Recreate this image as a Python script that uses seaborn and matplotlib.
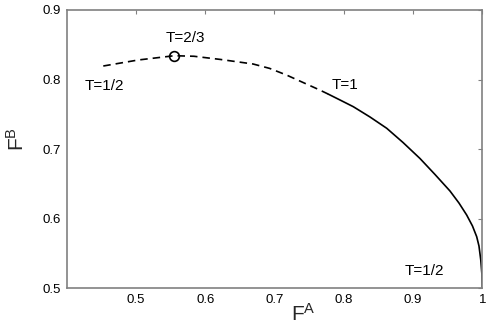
import matplotlib
matplotlib.use("Agg")
import matplotlib.pyplot as plt
import seaborn as sns
import pandas as pd

# Data
fa_dashed = [0.4528, 0.5029, 0.5554, 0.5837, 0.6214, 0.6690, 0.6929, 0.7172, 0.7653, 0.7772]
fb_dashed = [0.8195, 0.8281, 0.8343, 0.8335, 0.8290, 0.8224, 0.8161, 0.8066, 0.7850, 0.7793]
fa_solid = [0.7772, 0.7945, 0.8138, 0.8379, 0.8620, 0.8855, 0.9100, 0.9317, 0.9533,
            0.9663, 0.9774, 0.9858, 0.9919, 0.9952, 0.9978, 0.9994, 1.0]
fb_solid = [0.7793, 0.7707, 0.7610, 0.7462, 0.7300, 0.7096, 0.6866, 0.6636, 0.6399,
            0.6226, 0.6054, 0.5896, 0.5742, 0.5608, 0.5407, 0.5206, 0.5]
peak_fa = [0.5554]
peak_fb = [0.8343]
x_ticks = [0.5, 0.6, 0.7, 0.8, 0.9, 1.0]
x_tick_labels = ["0.5", "0.6", "0.7", "0.8", "0.9", "1"]
y_ticks = [0.5, 0.6, 0.7, 0.8, 0.9]
y_tick_labels = ["0.5", "0.6", "0.7", "0.8", "0.9"]
annotations = [("T=2/3", 0.5715, 0.8544, "center"),
               ("T=1/2", 0.4264, 0.7850, "left"),
               ("T=1", 0.7826, 0.7860, "left"),
               ("T=1/2", 0.8884, 0.5190, "left")]

sns.set_style("white")
plt.rcParams["font.family"] = ["Liberation Sans", "DejaVu Sans"]
plt.rcParams["mathtext.fontset"] = "custom"
plt.rcParams["mathtext.rm"] = "Liberation Sans"
plt.rcParams["mathtext.it"] = "Liberation Sans"
plt.rcParams["mathtext.default"] = "regular"

fig = plt.figure(figsize=(4.91, 3.27), dpi=100)
ax = fig.add_axes([66.7 / 491, 1 - 288.3 / 327, 415.6 / 491, 278.3 / 327])

df_d = pd.DataFrame({"FA": fa_dashed, "FB": fb_dashed})
df_s = pd.DataFrame({"FA": fa_solid, "FB": fb_solid})
df_p = pd.DataFrame({"FA": peak_fa, "FB": peak_fb})

sns.lineplot(data=df_d, x="FA", y="FB", ax=ax, color="black", lw=1.2,
             linestyle=(0, (4.5, 3)), sort=False)
sns.lineplot(data=df_s, x="FA", y="FB", ax=ax, color="black", lw=1.2, sort=False)
ax.plot(df_p["FA"], df_p["FB"], marker="o", ms=7, mfc="none", mec="black",
        mew=1.2, linestyle="none")

for txt, x, y, ha in annotations:
    ax.text(x, y, txt, ha=ha, va="baseline", fontsize=11, color="black")

ax.set_xlim(0.4, 1.0)
ax.set_ylim(0.5, 0.9)
ax.set_xticks(x_ticks)
ax.set_xticklabels(x_tick_labels)
ax.set_yticks(y_ticks)
ax.set_yticklabels(y_tick_labels)
ax.tick_params(direction="in", length=3, width=0.8, color="#808080",
               labelsize=9.5, top=True, right=True, pad=4, labelcolor="black")
for sp in ax.spines.values():
    sp.set_color("#808080")
    sp.set_linewidth(1.2)

ax.set_xlabel("F$^{A}$", fontsize=15)
ax.set_ylabel("F$^{B}$", fontsize=15)
ax.xaxis.set_label_coords(0.5686, -0.053)
ax.yaxis.set_label_coords(-0.093, 0.5365)

fig.savefig("out.png", dpi=100)
